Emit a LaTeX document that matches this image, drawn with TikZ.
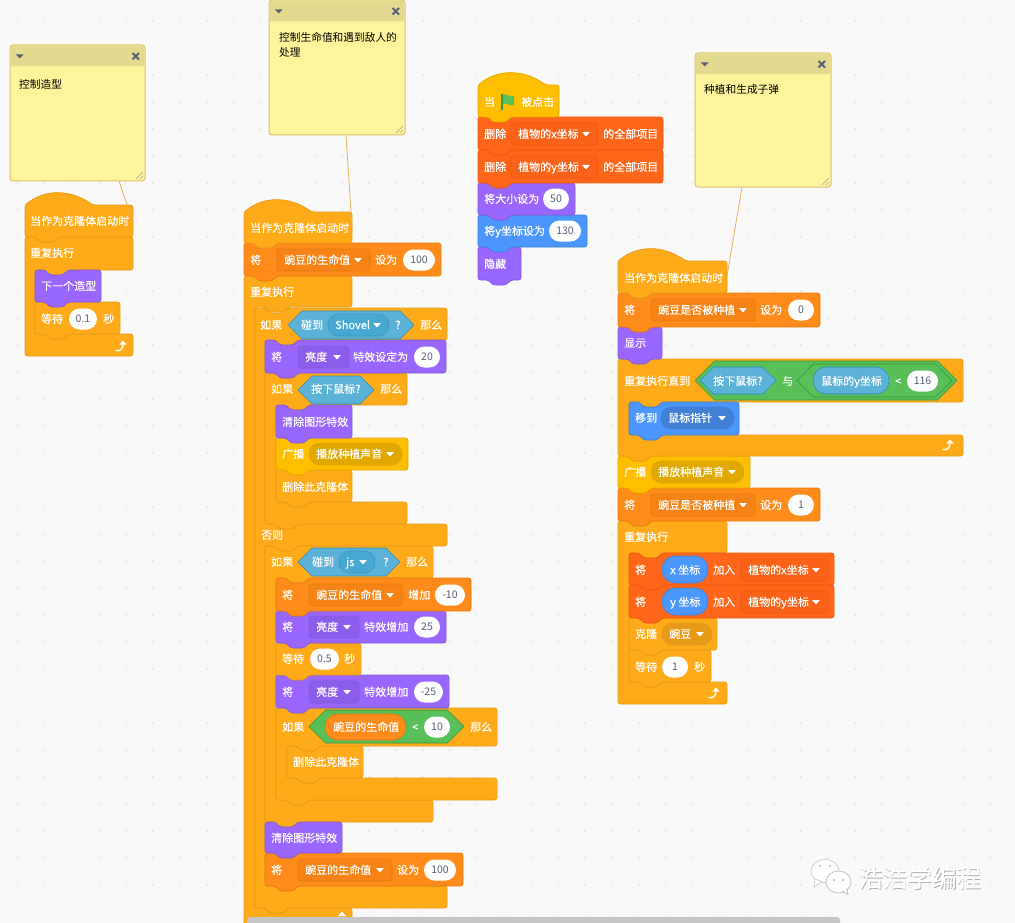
\documentclass[tikz,border=0pt]{standalone}
\usepackage{fontspec}
\setmainfont{Noto Sans CJK SC}
\newfontfamily\blkfont[FakeBold=0.25]{Noto Sans CJK SC}
\definecolor{bgc}{HTML}{F9F9F9}
\definecolor{dotc}{HTML}{DEDEDE}
\definecolor{ctlF}{HTML}{FFAB19}\definecolor{ctlE}{HTML}{E69A17}
\definecolor{evtF}{HTML}{FFBF00}\definecolor{evtE}{HTML}{E0A800}
\definecolor{dataF}{HTML}{FF8C1A}\definecolor{dataE}{HTML}{E67A10}\definecolor{dataD}{HTML}{F58315}
\definecolor{listF}{HTML}{FF661A}\definecolor{listE}{HTML}{EE5A12}\definecolor{listD}{HTML}{F96218}
\definecolor{lookF}{HTML}{9966FF}\definecolor{lookE}{HTML}{855CD6}\definecolor{lookD}{HTML}{8C5CEB}
\definecolor{moveF}{HTML}{4C97FF}\definecolor{moveE}{HTML}{4280D7}
\definecolor{senF}{HTML}{5CB1D6}\definecolor{senE}{HTML}{2E8EB8}\definecolor{senD}{HTML}{47A8D1}
\definecolor{opF}{HTML}{59C059}\definecolor{opE}{HTML}{389438}
\definecolor{ink}{HTML}{575E75}
\definecolor{noteF}{HTML}{FEF49C}\definecolor{noteH}{HTML}{E3DA90}\definecolor{noteE}{HTML}{E2BE6C}
\definecolor{linkc}{HTML}{E2B35F}
\tikzset{
 ctl/.style={fill=ctlF,draw=ctlE,line width=.7pt},
 evt/.style={fill=evtF,draw=evtE,line width=.7pt},
 dat/.style={fill=dataF,draw=dataE,line width=.7pt},
 lst/.style={fill=listF,draw=listE,line width=.7pt},
 lok/.style={fill=lookF,draw=lookE,line width=.7pt},
 mov/.style={fill=moveF,draw=moveE,line width=.7pt},
 senhex/.style={fill=senF,draw=senE,line width=.6pt},
 ophex/.style={fill=opF,draw=opE,line width=.6pt},
 txt/.style={text=white,font=\blkfont\fontsize{11}{11}\selectfont,inner sep=0pt,anchor=base west},
 graytxt/.style={text=ink,font=\fontsize{10.5}{11}\selectfont,inner sep=0pt,anchor=base},
 notetxt/.style={text=black,font=\fontsize{10.7}{11}\selectfont,inner sep=0pt,anchor=base west},
}
\newcount\nn
\def\ntop#1#2{-- ({#1+10},#2) -- ({#1+15},{#2+5}) -- ({#1+28},{#2+5}) -- ({#1+33},#2)}
\def\tabbot#1#2{-- ({#1+33},#2) -- ({#1+28},{#2+5}) -- ({#1+15},{#2+5}) -- ({#1+10},#2)}
% text label
\newcommand\lbl[3]{\global\advance\nn by 1 \node[txt] (t\the\nn) at ({#1},{#2+4}) {#3};}
% stack block {style}{x1}{y1}{x2}{y2}
\newcommand\blk[5]{\draw[#1,rounded corners=2.5pt] (#2,{#3+6}) -- (#2,#3) \ntop{#2}{#3} -- (#4,#3) -- (#4,#5) \tabbot{#2}{#5} -- (#2,#5) -- cycle;}
% hat {style}{x1}{ytop of rect}{x2}{y2}
\newcommand\hatb[5]{\draw[#1,rounded corners=2.5pt] (#2,{#3+6}) -- (#2,#3) .. controls ({#2+20},{#3-16}) and ({#2+45},{#3-16}) .. ({#2+68},#3) -- (#4,#3) -- (#4,#5) \tabbot{#2}{#5} -- (#2,#5) -- cycle;}
% C block with tab: {x1}{y1}{x2}{y2}{inner}{x3}{y3}{y4}
\newcommand\cblk[8]{\draw[ctl,rounded corners=2.5pt] (#1,{#2+6}) -- (#1,#2) \ntop{#1}{#2} -- (#3,#2) -- (#3,#4) \tabbot{#5}{#4} -- (#5,#4) -- (#5,#7) \ntop{#5}{#7} -- (#6,#7) -- (#6,#8) \tabbot{#1}{#8} -- (#1,#8) -- cycle;}
% C block flat bottom
\newcommand\cflat[8]{\draw[ctl,rounded corners=2.5pt] (#1,{#2+6}) -- (#1,#2) \ntop{#1}{#2} -- (#3,#2) -- (#3,#4) \tabbot{#5}{#4} -- (#5,#4) -- (#5,#7) \ntop{#5}{#7} -- (#6,#7) -- (#6,#8) -- (#1,#8) -- cycle;}
% if-else: {x1}{y1}{x2}{y2}{inner}{y3}{y4}{y5}{y6}
\newcommand\ifelseb[9]{\draw[ctl,rounded corners=2.5pt] (#1,{#2+6}) -- (#1,#2) \ntop{#1}{#2} -- (#3,#2) -- (#3,#4) \tabbot{#5}{#4} -- (#5,#4) -- (#5,#6) \ntop{#5}{#6} -- (#3,#6) -- (#3,#7) \tabbot{#5}{#7} -- (#5,#7) -- (#5,#8) \ntop{#5}{#8} -- (#3,#8) -- (#3,#9) \tabbot{#1}{#9} -- (#1,#9) -- cycle;}
% white pill {x1}{x2}{yc}{text}
\newcommand\wpill[4]{\global\advance\nn by 1 \fill[white,rounded corners=10.5pt] (#1,{#3-10.5}) rectangle (#2,{#3+10.5});
 \node[graytxt] (t\the\nn) at ({(#1+#2)/2},{#3+3.8}) {#4};}
% drop arrow {x}{y}
\newcommand\darr[2]{\fill[white,rounded corners=.5pt] ({#1-4},{#2-2}) -- ({#1+4},{#2-2}) -- ({#1},{#2+2.5}) -- cycle;}
% dropdown {x1}{x2}{yc}{fill}{edge}{text}{radius}
\newcommand\dd[7]{\draw[fill=#4,draw=#5,line width=.6pt,rounded corners=#7] (#1,{#3-11}) rectangle (#2,{#3+11});
 \lbl{(#1+7)}{#3}{#6}\darr{(#2-12)}{#3}}
% hexagon {x1}{x2}{y1}{y2}{style}
\newcommand\hexa[5]{\draw[#5,line join=round] (#1,{(#3+#4)/2}) -- ({#1+(#4-#3)/2},#3) -- ({#2-(#4-#3)/2},#3) -- (#2,{(#3+#4)/2}) -- ({#2-(#4-#3)/2},#4) -- ({#1+(#4-#3)/2},#4) -- cycle;}
% loop arrow
\newcommand\loopa[2]{\draw[white,line width=1.3pt] ({#1-5.5},{#2+4.5}) .. controls ({#1-1},{#2+5.5}) and ({#1+2},{#2+3}) .. ({#1+2},{#2-1.5});
 \fill[white] ({#1-1.5},{#2-1.5}) -- ({#1+2},{#2-5.5}) -- ({#1+5.5},{#2-1.5}) -- cycle;}
% comment {x1}{y1}{x2}{y2}
\newcommand\notec[4]{\draw[fill=noteF,draw=noteE,line width=1pt,rounded corners=3pt] (#1,#2) rectangle (#3,#4);
 \fill[noteH,rounded corners=2.5pt] ({#1+.6},{#2+.6}) -- ({#3-.6},{#2+.6}) -- ({#3-.6},{#2+21.5}) -- ({#1+.6},{#2+21.5}) -- cycle;
 \fill[ink] ({#1+6},{#2+9.5}) -- ({#1+13.5},{#2+9.5}) -- ({#1+9.75},{#2+13.5}) -- cycle;
 \draw[ink,line width=2pt] ({#3-12.5},{#2+8}) -- ({#3-6},{#2+14.5}) ({#3-12.5},{#2+14.5}) -- ({#3-6},{#2+8});
 \draw[gray!70,line width=.5pt] ({#3-9},{#4-2}) -- ({#3-2},{#4-9}) ({#3-5},{#4-2}) -- ({#3-2},{#4-5});}
\begin{document}
\begin{tikzpicture}[x=1pt,y=-1pt]
\useasboundingbox (0,0) rectangle (1015,923);
\clip (0,0) rectangle (1015,923);
\fill[bgc] (0,0) rectangle (1015,923);
\foreach \i in {0,...,37}{\foreach \j in {0,...,33}{\fill[dotc] ({18+27*\i},{21+27*\j}) circle (.8pt);}}

% ---------- comments
\notec{10}{45}{145}{181}
\node[notetxt] (n1) at (19,88.5) {控制造型};
\notec{269}{0}{405}{135}
\node[notetxt] (n2) at (279,42) {控制生命值和遇到敌人的};
\node[notetxt] (n2b) at (279,57) {处理};
\notec{695}{53}{831}{187}
\node[notetxt] (n3) at (704,93.5) {种植和生成子弹};

% ---------- stack 1
\cflat{25}{237}{133}{270}{35}{133}{334}{356}
\blk{ctl}{35}{302}{120}{334}
\blk{lok}{35}{270}{101}{302}
\hatb{ctl}{25}{205}{133}{237}
\lbl{30}{221}{当作为克隆体启动时}
\lbl{30}{253}{重复执行}
\lbl{41}{286}{下一个造型}
\lbl{41}{319}{等待}\wpill{69}{97}{319}{0.1}\lbl{103}{319}{秒}
\loopa{121}{346}

% ---------- stack 2
\cflat{244}{276}{352}{307}{255}{352}{908}{945}
\ifelseb{255}{308}{447}{340}{265}{524}{546}{886}{908}
\cblk{265}{546}{433}{578}{276}{433}{800}{822}
\cblk{265}{373}{407}{405}{276}{407}{502}{524}
\blk{dat}{265}{853}{463}{886}
\blk{lok}{265}{822}{342}{853}
\cblk{276}{708}{497}{746}{287}{497}{778}{800}
\blk{ctl}{287}{746}{363}{778}
\blk{lok}{276}{675}{449}{708}
\blk{ctl}{276}{643}{361}{675}
\blk{lok}{276}{611}{446}{643}
\blk{dat}{276}{578}{471}{611}
\blk{ctl}{276}{470}{352}{502}
\blk{evt}{276}{438}{408}{470}
\blk{lok}{276}{405}{352}{438}
\blk{lok}{265}{340}{446}{373}
\blk{dat}{244}{243}{441}{276}
\hatb{ctl}{244}{212}{352}{243}
\lbl{250}{228}{当作为克隆体启动时}
\lbl{250}{260}{将}\dd{277}{370}{260}{dataD}{dataE}{豌豆的生命值}{3pt}\lbl{375}{260}{设为}\wpill{403}{435}{260}{100}
\lbl{250}{292}{重复执行}
\lbl{260}{325}{如果}
\hexa{288}{414}{311}{339}{senhex}
\lbl{301}{325}{碰到}
\dd{328}{389}{325}{senD}{senE!70!senF}{Shovel}{10.5pt}
\lbl{395}{325}{?}\lbl{420}{325}{那么}
\lbl{271}{357}{将}\dd{298}{349}{357}{lookD}{lookE}{亮度}{3pt}\lbl{353}{357}{特效设定为}\wpill{414}{440}{357}{20}
\lbl{271}{389}{如果}
\hexa{298}{374}{376}{404}{senhex}
\lbl{311}{389}{按下鼠标?}\lbl{380}{389}{那么}
\lbl{282}{422}{清除图形特效}
\lbl{282}{454}{广播}\dd{309}{402}{454}{evtE}{evtE}{播放种植声音}{10.5pt}
\lbl{282}{487}{删除此克隆体}
\lbl{261}{535}{否则}
\lbl{271}{562}{如果}
\hexa{298}{400}{548}{576}{senhex}
\lbl{312}{562}{碰到}
\dd{339}{375}{562}{senD}{senE!70!senF}{js}{10.5pt}
\lbl{383}{562}{?}\lbl{406}{562}{那么}
\lbl{282}{595}{将}\dd{309}{402}{595}{dataD}{dataE}{豌豆的生命值}{3pt}\lbl{408}{595}{增加}\wpill{435}{465}{595}{-10}
\lbl{282}{627}{将}\dd{309}{359}{627}{lookD}{lookE}{亮度}{3pt}\lbl{364}{627}{特效增加}\wpill{414}{440}{627}{25}
\lbl{282}{659}{等待}\wpill{310}{339}{659}{0.5}\lbl{344}{659}{秒}
\lbl{282}{692}{将}\dd{309}{359}{692}{lookD}{lookE}{亮度}{3pt}\lbl{364}{692}{特效增加}\wpill{414}{443}{692}{-25}
\lbl{282}{727}{如果}
\hexa{309}{464}{710}{743}{ophex}
\draw[fill=dataF,draw=dataE,line width=.6pt,rounded corners=13pt] (325,714) rectangle (406,740);
\lbl{333}{727}{豌豆的生命值}\lbl{412}{727}{<}\wpill{424}{450}{727}{10}
\lbl{470}{727}{那么}
\lbl{293}{762}{删除此克隆体}
\lbl{271}{838}{清除图形特效}
\lbl{271}{870}{将}\dd{298}{392}{870}{dataD}{dataE}{豌豆的生命值}{3pt}\lbl{397}{870}{设为}\wpill{424}{456}{870}{100}

% ---------- stack 3
\blk{lok}{478}{247}{521}{280}
\blk{mov}{478}{215}{587}{247}
\blk{lok}{478}{183}{575}{215}
\blk{lst}{478}{150}{663}{183}
\blk{lst}{478}{117}{663}{150}
\hatb{evt}{478}{85}{559}{117}
\lbl{484}{102}{当}
\fill[opE] (501,94) rectangle (503,110);
\fill[opF] (503,95) .. controls (507,93) and (510,98) .. (514,96) -- (514,105) .. controls (510,107) and (507,102) .. (503,104) -- cycle;
\lbl{521}{102}{被点击}
\lbl{484}{134}{删除}\dd{511}{598}{134}{listD}{listE}{植物的x坐标}{3pt}\lbl{603}{134}{的全部项目}
\lbl{484}{167}{删除}\dd{511}{598}{167}{listD}{listE}{植物的y坐标}{3pt}\lbl{603}{167}{的全部项目}
\lbl{484}{199}{将大小设为}\wpill{543}{569}{199}{50}
\lbl{484}{231}{将y坐标设为}\wpill{549}{581}{231}{130}
\lbl{484}{264}{隐藏}

% ---------- stack 4
\cflat{618}{521}{727}{553}{629}{727}{682}{704}
\blk{ctl}{629}{650}{711}{682}
\blk{ctl}{629}{618}{717}{650}
\blk{lst}{629}{585}{834}{618}
\blk{lst}{629}{553}{834}{585}
\blk{dat}{618}{488}{820}{521}
\blk{evt}{618}{456}{750}{488}
\cblk{618}{359}{963}{402}{629}{963}{435}{456}
\blk{mov}{629}{402}{739}{435}
\blk{lok}{618}{327}{662}{359}
\blk{dat}{618}{293}{820}{327}
\hatb{ctl}{618}{261}{727}{293}
\lbl{624}{278}{当作为克隆体启动时}
\lbl{624}{310}{将}\dd{651}{755}{310}{dataD}{dataE}{豌豆是否被种植}{3pt}\lbl{760}{310}{设为}\wpill{788}{814}{310}{0}
\lbl{624}{343}{显示}
\lbl{624}{381}{重复执行直到}
\hexa{695}{957}{361}{400}{ophex}
\hexa{700}{776}{367}{394}{senhex}
\lbl{713}{381}{按下鼠标?}\lbl{782}{381}{与}
\hexa{797}{952}{364}{397}{ophex}
\draw[senhex,rounded corners=13pt] (813,367) rectangle (889,394);
\lbl{821}{381}{鼠标的y坐标}\lbl{895}{381}{<}\wpill{907}{938}{381}{116}
\lbl{635}{418}{移到}\dd{661}{734}{418}{moveE}{moveE}{鼠标指针}{10.5pt}
\loopa{948}{445}
\lbl{624}{472}{广播}\dd{651}{744}{472}{evtE}{evtE}{播放种植声音}{10.5pt}
\lbl{624}{505}{将}\dd{651}{755}{505}{dataD}{dataE}{豌豆是否被种植}{3pt}\lbl{760}{505}{设为}\wpill{788}{814}{505}{1}
\lbl{624}{537}{重复执行}
\lbl{635}{570}{将}
\draw[mov,rounded corners=13pt] (662,556) rectangle (708,583);
\lbl{670}{570}{x 坐标}\lbl{713}{570}{加入}\dd{741}{828}{570}{listD}{listE}{植物的x坐标}{3pt}
\lbl{635}{602}{将}
\draw[mov,rounded corners=13pt] (662,588) rectangle (708,615);
\lbl{670}{602}{y 坐标}\lbl{713}{602}{加入}\dd{741}{828}{602}{listD}{listE}{植物的y坐标}{3pt}
\lbl{635}{634}{克隆}\dd{662}{712}{634}{ctlE}{ctlE}{豌豆}{10.5pt}
\lbl{635}{667}{等待}\wpill{662}{688}{667}{1}\lbl{694}{667}{秒}
\loopa{714}{693}

% ---------- comment links
\coordinate (la1) at (119,181);\coordinate (lb1) at (133,222);
\coordinate (la2) at (346,135);\coordinate (lb2) at (352,228);
\coordinate (la3) at (742,187);\coordinate (lb3) at (727,276);
\draw[linkc,line width=.8pt] (la1) -- (lb1);
\draw[linkc,line width=.8pt] (la2) -- (lb2);
\draw[linkc,line width=.8pt] (la3) -- (lb3);

% ---------- scrollbar
\fill[white] (338,916) -- (342,911.5) -- (346,916) -- cycle;
\fill[gray!45,rounded corners=3pt] (247,917) rectangle (840,930);

% ---------- watermark
\draw[fill=white,draw=gray!40,line width=.7pt] (825,871) ellipse (14pt and 11.5pt);
\draw[fill=white,draw=gray!40,line width=.7pt] (815,879) -- (814,887) -- (822,881.5) -- cycle;
\fill[white] (816,878) -- (821,878) -- (821,880.5) -- cycle;
\draw[fill=white,draw=gray!50,line width=.7pt] (838.5,882) ellipse (12.5pt and 11pt);
\draw[fill=white,draw=gray!50,line width=.7pt] (843,891.5) -- (848,894.5) -- (847,889) -- cycle;
\fill[white] (843,890) -- (846,892) -- (846,888) -- cycle;
\fill[gray!70] (820,866) circle (1pt) (830,866) circle (1pt) (834,880) circle (1pt) (843,880) circle (1pt);
\node[gray!70,font=\fontsize{24.6}{25}\selectfont,inner sep=0pt,anchor=base west] (wms) at (859,888) {浩浩学编程};
\node[white,font=\blkfont\fontsize{24.6}{25}\selectfont,inner sep=0pt,anchor=base west] (wm) at (858,887) {浩浩学编程};
\end{tikzpicture}
\end{document}
